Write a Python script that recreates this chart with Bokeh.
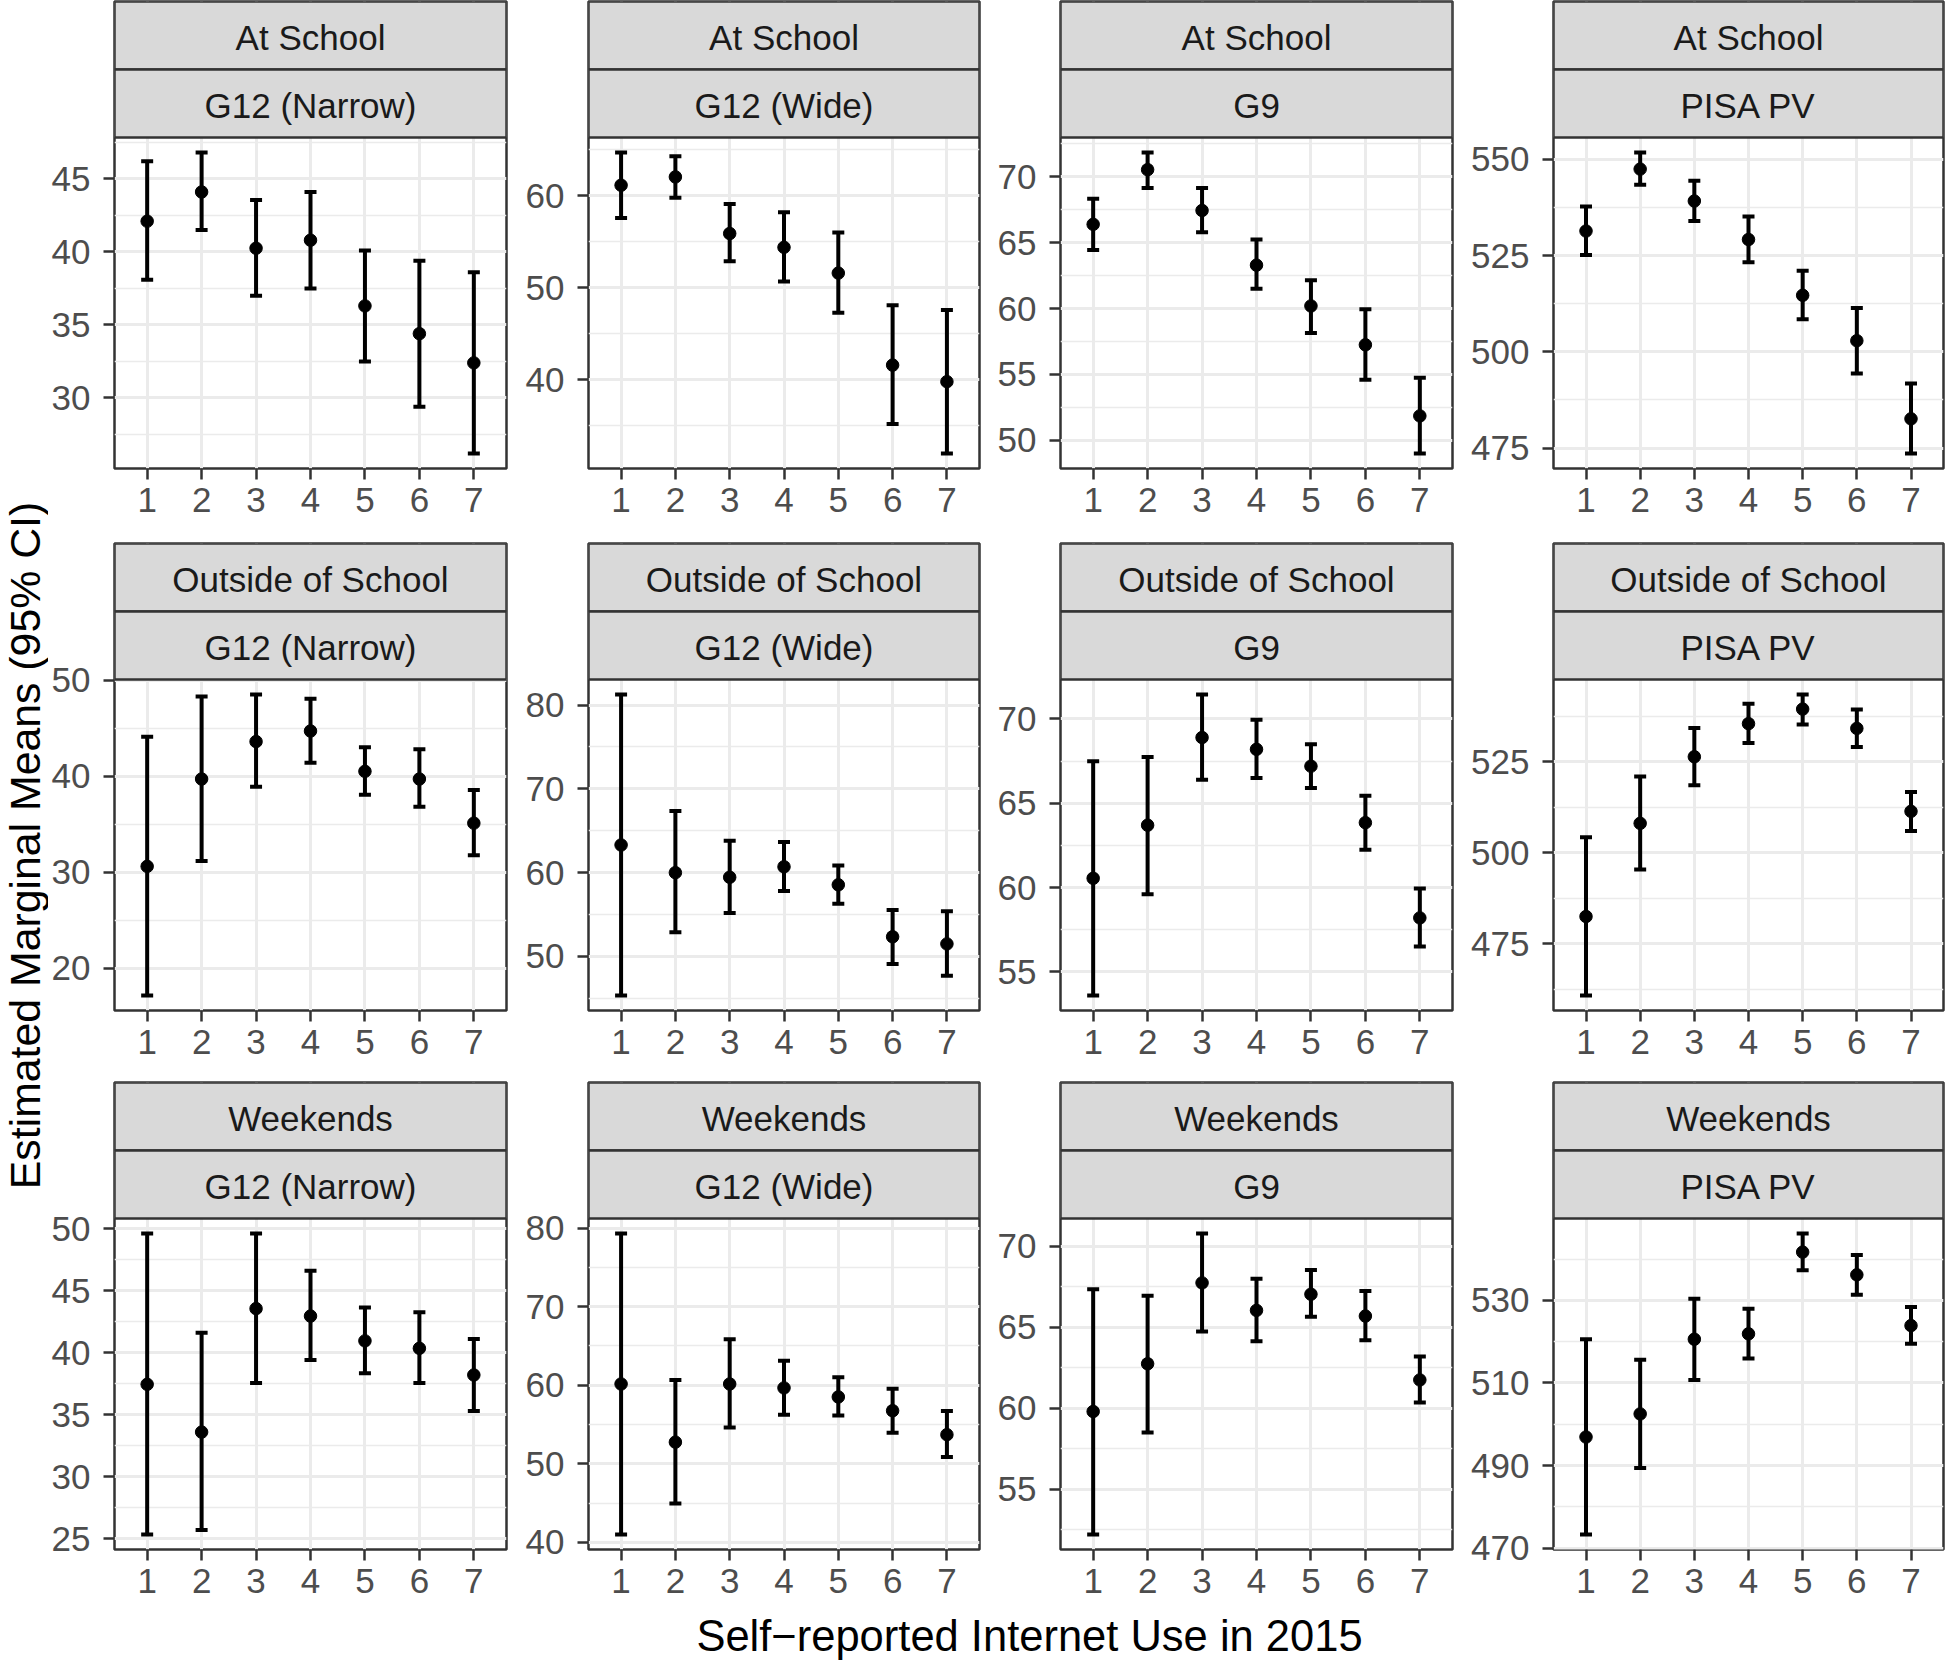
import math
from bokeh.plotting import figure
from bokeh.models import ColumnDataSource, Whisker, TeeHead, FixedTicker, Range1d
from bokeh.layouts import row, column
from bokeh.embed import file_html
from bokeh.resources import INLINE
from bokeh.core.properties import value

# ---------------- data ----------------
usage = [1, 2, 3, 4, 5, 6, 7]
contexts = ["At School", "Outside of School", "Weekends"]
outcomes = ["G12 (Narrow)", "G12 (Wide)", "G9", "PISA PV"]
x_title = "Self\u2212reported Internet Use in 2015"
y_title = "Estimated Marginal Means (95% CI)"

# At School
school_g12n_est = [42.1, 44.1, 40.25, 40.8, 36.3, 34.4, 32.4]
school_g12n_lo = [38.1, 41.5, 37.0, 37.5, 32.5, 29.4, 26.2]
school_g12n_hi = [46.2, 46.8, 43.55, 44.1, 40.1, 39.4, 38.6]

school_g12w_est = [61.15, 62.05, 55.9, 54.4, 51.6, 41.6, 39.8]
school_g12w_lo = [57.6, 59.8, 52.9, 50.7, 47.3, 35.2, 32.0]
school_g12w_hi = [64.7, 64.3, 59.1, 58.2, 56.0, 48.1, 47.6]

school_g9_est = [66.4, 70.55, 67.45, 63.3, 60.2, 57.25, 51.85]
school_g9_lo = [64.45, 69.15, 65.8, 61.5, 58.15, 54.6, 49.0]
school_g9_hi = [68.35, 71.85, 69.15, 65.25, 62.15, 59.95, 54.75]

school_pisa_est = [531.4, 547.5, 539.2, 529.2, 514.7, 502.9, 482.6]
school_pisa_lo = [525.2, 543.4, 534.0, 523.3, 508.5, 494.4, 473.6]
school_pisa_hi = [537.8, 551.8, 544.5, 535.2, 521.1, 511.4, 491.8]

# Outside of School
outside_g12n_est = [30.6, 39.7, 43.6, 44.7, 40.5, 39.7, 35.1]
outside_g12n_lo = [17.15, 31.15, 38.9, 41.4, 38.05, 36.8, 31.75]
outside_g12n_hi = [44.1, 48.3, 48.5, 48.05, 43.0, 42.8, 38.55]

outside_g12w_est = [63.3, 60.0, 59.45, 60.7, 58.55, 52.35, 51.5]
outside_g12w_lo = [45.35, 52.9, 55.2, 57.8, 56.3, 49.1, 47.7]
outside_g12w_hi = [81.25, 67.35, 63.8, 63.65, 60.85, 55.55, 55.4]

outside_g9_est = [60.55, 63.7, 68.9, 68.2, 67.2, 63.85, 58.2]
outside_g9_lo = [53.6, 59.6, 66.4, 66.5, 65.9, 62.25, 56.5]
outside_g9_hi = [67.5, 67.75, 71.45, 69.95, 68.5, 65.45, 59.95]

outside_pisa_est = [482.5, 508.1, 526.4, 535.5, 539.5, 534.2, 511.4]
outside_pisa_lo = [460.8, 495.4, 518.6, 530.2, 535.3, 529.1, 506.0]
outside_pisa_hi = [504.3, 521.0, 534.3, 541.0, 543.5, 539.4, 516.7]

# Weekends
weekend_g12n_est = [37.45, 33.6, 43.55, 42.95, 40.95, 40.35, 38.2]
weekend_g12n_lo = [25.35, 25.7, 37.55, 39.4, 38.35, 37.55, 35.3]
weekend_g12n_hi = [49.6, 41.6, 49.6, 46.6, 43.65, 43.25, 41.1]

weekend_g12w_est = [60.15, 52.75, 60.15, 59.65, 58.5, 56.75, 53.7]
weekend_g12w_lo = [41.0, 44.95, 54.6, 56.25, 56.15, 53.95, 50.85]
weekend_g12w_hi = [79.3, 60.65, 65.85, 63.1, 61.0, 59.55, 56.7]

weekend_g9_est = [59.8, 62.75, 67.75, 66.05, 67.05, 65.7, 61.75]
weekend_g9_lo = [52.2, 58.5, 64.75, 64.15, 65.65, 64.2, 60.35]
weekend_g9_hi = [67.35, 66.95, 70.8, 68.0, 68.55, 67.25, 63.2]

weekend_pisa_est = [496.9, 502.5, 520.6, 521.9, 541.7, 536.2, 523.9]
weekend_pisa_lo = [473.3, 489.4, 510.7, 515.9, 537.3, 531.4, 519.5]
weekend_pisa_hi = [520.6, 515.6, 530.4, 528.0, 546.2, 541.0, 528.4]

# y tick labels per panel
ticks_school = [[30, 35, 40, 45], [40, 50, 60], [50, 55, 60, 65, 70], [475, 500, 525, 550]]
ticks_outside = [[20, 30, 40, 50], [50, 60, 70, 80], [55, 60, 65, 70], [475, 500, 525]]
ticks_weekend = [[25, 30, 35, 40, 45, 50], [40, 50, 60, 70, 80], [55, 60, 65, 70], [470, 490, 510, 530]]

panels = [
    [(school_g12n_est, school_g12n_lo, school_g12n_hi),
     (school_g12w_est, school_g12w_lo, school_g12w_hi),
     (school_g9_est, school_g9_lo, school_g9_hi),
     (school_pisa_est, school_pisa_lo, school_pisa_hi)],
    [(outside_g12n_est, outside_g12n_lo, outside_g12n_hi),
     (outside_g12w_est, outside_g12w_lo, outside_g12w_hi),
     (outside_g9_est, outside_g9_lo, outside_g9_hi),
     (outside_pisa_est, outside_pisa_lo, outside_pisa_hi)],
    [(weekend_g12n_est, weekend_g12n_lo, weekend_g12n_hi),
     (weekend_g12w_est, weekend_g12w_lo, weekend_g12w_hi),
     (weekend_g9_est, weekend_g9_lo, weekend_g9_hi),
     (weekend_pisa_est, weekend_pisa_lo, weekend_pisa_hi)],
]
ticks_all = [ticks_school, ticks_outside, ticks_weekend]

# ---------------- style / layout ----------------
FONT = "Liberation Sans"
YT_W = 48                       # width of the y-title strip
FW = [392, 391, 392, 390]       # panel frame widths
LB = [65, 80, 79, 99]           # left borders (tick labels)
RB = [2, 2, 2, 3]               # right borders
FH = 331                        # data panel height
S = 68                          # each facet strip height
BB = [74, 71, 62]               # bottom border per row
XT_H = 49                       # x-title strip height
BORDER = "#333333"
GRID = "#EBEBEB"
STRIP_FILL = "#D9D9D9"


def facet_fig(r, c):
    est, lo, hi = panels[r][c]
    ticks = ticks_all[r][c]
    lo_v, hi_v = min(lo), max(hi)
    pad = 0.05 * (hi_v - lo_v)
    ystart, yend = lo_v - pad, hi_v + pad
    step = ticks[1] - ticks[0]
    minors = []
    m = ticks[0] - step / 2
    while m <= yend:
        if m >= ystart:
            minors.append(m)
        m += step

    # frame = two strips on top of the data panel
    y_top = ystart + (yend - ystart) * (FH + 2 * S) / FH
    xr = Range1d(0.4, 7.6)
    p = figure(frame_width=FW[c], frame_height=FH + 2 * S,
               min_border_left=LB[c], min_border_right=RB[c],
               min_border_top=1, min_border_bottom=BB[r],
               x_range=xr, y_range=Range1d(ystart, y_top),
               toolbar_location=None, output_backend="svg")
    p.extra_y_ranges = {"strip": Range1d(-FH / S, 2)}
    p.background_fill_color = "white"
    p.border_fill_color = "white"
    p.outline_line_color = BORDER
    p.outline_line_width = 2.5

    yt = FixedTicker(ticks=ticks, minor_ticks=minors)
    xt = FixedTicker(ticks=usage)
    p.yaxis.ticker = yt
    p.xaxis.ticker = xt
    p.ygrid.ticker = yt
    p.xgrid.ticker = xt
    p.grid.grid_line_color = GRID
    p.grid.grid_line_width = 3
    p.ygrid.minor_grid_line_color = GRID
    p.ygrid.minor_grid_line_width = 1.5

    p.axis.axis_line_color = None
    p.axis.major_tick_line_color = BORDER
    p.axis.major_tick_line_width = 2.5
    p.axis.major_tick_in = 0
    p.axis.major_tick_out = 11
    p.axis.minor_tick_line_color = None
    p.axis.major_label_text_font = FONT
    p.axis.major_label_text_font_size = "35px"
    p.axis.major_label_text_color = "#4D4D4D"
    p.xaxis.major_label_standoff = 8
    p.yaxis.major_label_standoff = 13

    src = ColumnDataSource(dict(x=usage, est=est, lo=lo, hi=hi))
    w = Whisker(source=src, base="x", upper="hi", lower="lo", dimension="height",
                line_color="black", line_width=4,
                upper_head=TeeHead(size=12, line_width=4, line_color="black"),
                lower_head=TeeHead(size=12, line_width=4, line_color="black"))
    p.add_layout(w)
    p.scatter(x="x", y="est", source=src, size=12.5, color="black")

    # facet strips (context on top, outcome below)
    x0, x1 = xr.start, xr.end
    p.quad(left=[x0, x0], right=[x1, x1], bottom=[1, 0], top=[2, 1],
           y_range_name="strip", fill_color=STRIP_FILL, line_color=BORDER,
           line_width=2.5)
    p.text(x=[(x0 + x1) / 2] * 2, y=[1.47, 0.47],
           text=[contexts[r], outcomes[c]], y_range_name="strip",
           text_align="center", text_baseline="middle",
           text_font=value(FONT), text_font_size=value("35px"),
           text_color="#1A1A1A")
    return p


rows_layout = [row(*[facet_fig(r, c) for c in range(4)]) for r in range(3)]

total_w = sum(LB[c] + FW[c] + RB[c] for c in range(4))
xt_fig = figure(width=total_w, height=XT_H, x_range=Range1d(0, total_w),
                y_range=Range1d(0, XT_H), min_border=0,
                x_axis_type=None, y_axis_type=None,
                toolbar_location=None, output_backend="svg")
xt_fig.grid.visible = False
xt_fig.outline_line_color = None
xt_fig.text(x=[1029 - YT_W], y=[XT_H / 2], text=[x_title], text_align="center",
            text_baseline="middle", text_font=value(FONT),
            text_font_size=value("43.5px"), text_color="black")

YT_H = sum(1 + FH + 2 * S + b for b in BB) + XT_H
yt_fig = figure(width=YT_W, height=YT_H, x_range=Range1d(0, YT_W),
                y_range=Range1d(0, YT_H), min_border=0,
                x_axis_type=None, y_axis_type=None,
                toolbar_location=None, output_backend="svg")
yt_fig.grid.visible = False
yt_fig.outline_line_color = None
yt_fig.text(x=[YT_W / 2], y=[YT_H - 845], text=[y_title], angle=math.pi / 2,
            text_align="center", text_baseline="middle", text_font=value(FONT),
            text_font_size=value("42.8px"), text_color="black")

layout = row(yt_fig, column(*rows_layout, xt_fig))

open("out.html", "w").write(file_html(layout, INLINE))
